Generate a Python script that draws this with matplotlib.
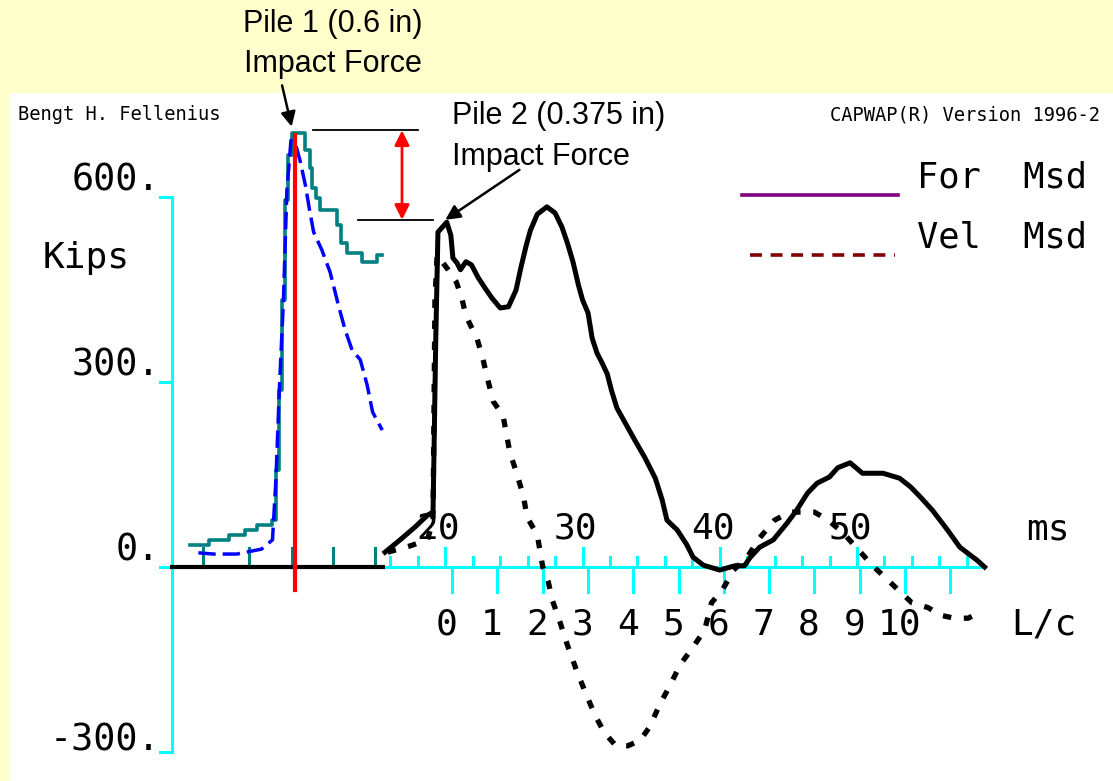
import matplotlib
matplotlib.use('Agg')
import matplotlib.pyplot as plt

# ---- datos (tiempo en ms, fuerza en kips) ----
# Pilote 1: fuerza (verde azulado) y velocidad (azul)
p1_fuerza_t = [1.4, 2.8, 4.2, 5.4, 6.3, 7.4, 7.65, 7.9, 8.1, 8.3, 8.5, 8.8, 9.8, 10.1,
               10.3, 10.6, 10.9, 12.1, 12.4, 12.8, 13.9, 14.7, 15.0, 15.4]
p1_fuerza_v = [36, 44, 52, 60, 68, 76, 157, 287, 433, 595, 668, 704, 676, 647,
               615, 599, 579, 555, 525, 509, 494, 494, 506, 506]
p1_vel_t = [2.0, 3.1, 4.8, 6.6, 7.4, 7.65, 7.9, 8.2, 8.45, 8.75, 9.1, 9.4, 9.8, 10.1,
            10.4, 11.0, 11.6, 12.2, 12.7, 13.2, 13.8, 14.3, 14.7, 15.4]
p1_vel_v = [23, 21, 21, 29, 44, 141, 287, 433, 611, 692, 684, 660, 619, 579,
            543, 514, 478, 425, 384, 352, 336, 295, 251, 222]
p1_ticks_t = [2.3, 5.7, 8.8, 11.8, 14.9]
p1_impacto_t = 9.04

# Pilote 2: fuerza medida y velocidad medida (negro)
p2_fuerza_t = [15.6, 16.7, 17.8, 18.7, 19.1, 19.17, 19.3, 19.46, 20.1, 20.4, 20.55, 20.85,
               21.1, 21.5, 21.9, 22.4, 22.9, 23.4, 24.0, 24.6, 25.15, 25.5, 25.9, 26.2,
               26.7, 27.4, 28.0, 28.5, 28.9, 29.3, 29.7, 30.0, 30.4, 30.7, 31.05, 31.4,
               31.8, 32.1, 32.5, 33.1, 33.8, 34.55, 35.3, 35.8, 36.15, 36.9, 37.6, 38.05,
               38.8, 40.0, 41.1, 41.8, 42.2, 42.9, 43.9, 44.9, 45.6, 46.4, 47.1, 48.0,
               48.6, 49.5, 50.4, 51.9, 53.1, 53.9, 54.6, 55.5, 56.6, 57.5, 58.75, 59.3]
p2_fuerza_v = [24, 44, 65, 84, 89, 182, 368, 543, 559, 538, 501, 493,
               482, 495, 490, 469, 452, 436, 420, 422, 449, 485, 522, 546,
               572, 584, 574, 551, 525, 495, 457, 433, 412, 371, 347, 332,
               313, 287, 258, 234, 206, 177, 144, 109, 76, 60, 36, 16,
               3, -5, 2, 2, 15, 32, 44, 71, 92, 120, 136, 146,
               161, 169, 152, 152, 144, 130, 114, 92, 60, 32, 11, 0]
p2_vel_t = [15.8, 17.4, 18.7, 19.1, 19.24, 19.4, 20.2, 20.8, 21.2, 21.5, 22.3, 22.7,
            23.1, 23.5, 24.2, 24.7, 25.2, 25.7, 25.95, 26.7, 27.1, 27.5, 27.8, 28.35,
            28.9, 29.6, 30.2, 30.9, 31.6, 32.4, 33.3, 34.2, 34.9, 35.6, 36.4, 37.1,
            38.05, 38.9, 39.4, 40.2, 41.0, 42.0, 42.9, 44.0, 45.1, 46.1, 46.9, 47.9,
            49.0, 50.1, 51.1, 52.0, 53.0, 54.0, 55.2, 56.05, 57.1, 58.1, 59.0]
p2_vel_v = [24, 34, 44, 76, 433, 506, 482, 462, 436, 407, 371, 341,
            303, 268, 246, 186, 152, 114, 81, 52, 0, -24, -54, -89,
            -127, -170, -203, -240, -269, -289, -290, -281, -259, -224, -191, -159,
            -130, -102, -58, -37, -5, 16, 47, 76, 89, 89, 89, 76,
            55, 28, 3, -16, -37, -58, -66, -78, -83, -83, -73]

pico_pilote1 = 708
pico_pilote2 = 563

# ejes
y_ticks = [600, 300, 0, -300]
y_labels = ['600.', '300.', '0.', '-300.']
ms_ticks = list(range(16, 59, 2))
ms_labels = [20, 30, 40, 50]
lc_valores = list(range(12))
lc_etiquetas = ['0', '1', '2', '3', '4', '5', '6', '7', '8', '9', '10']
lc_t0 = 20.5
lc_paso = 3.3

amarillo = '#FFFFCC'
cian = '#00FFFF'
mono = 'DejaVu Sans Mono'
arial = 'Liberation Sans'

fig = plt.figure(figsize=(11.13, 7.81), dpi=100)
fig.patch.set_facecolor(amarillo)
ax = fig.add_axes([10 / 1113, 0, 1103 / 1113, 688 / 781])
ax.set_facecolor('white')
ax.set_xlim(-11.73, 68.66)
ax.set_ylim(-347, 768.6)
for s in ax.spines.values():
    s.set_visible(False)
ax.set_xticks([])
ax.set_yticks([])

# eje vertical cian con "corchetes"
ax.plot([0.07, 0.07], [-300, 600], color=cian, lw=2.2)
for yt in [600, 300, -300]:
    ax.plot([-0.8, 0.07], [yt, yt], color=cian, lw=2.2)
for yt, lab in zip(y_ticks, y_labels):
    off = 20 if yt < 0 else 28
    ax.text(-0.8, yt + off, lab, ha='right', va='center', family=mono, fontsize=26.5)
ax.text(-6.2, 501, 'Kips', ha='center', va='center', family=mono, fontsize=26)

# eje horizontal cian
ax.plot([-0.8, 59.3], [0, 0], color=cian, lw=2.2)
for t in ms_ticks:
    h = 31 if t % 10 == 0 else 16
    ax.plot([t, t], [0, h], color=cian, lw=2.2)
for k in lc_valores:
    tk = lc_t0 + lc_paso * k
    ax.plot([tk, tk], [0, -40], color=cian, lw=2.2)
for m in ms_labels:
    ax.text(m - 0.5, 63, str(m), ha='center', va='center', family=mono, fontsize=26)
ax.text(63.9, 60, 'ms', ha='center', va='center', family=mono, fontsize=26)
for k, lab in zip(lc_valores, lc_etiquetas):
    ax.text(lc_t0 + lc_paso * k - 0.4, -94, lab, ha='center', va='center',
            family=mono, fontsize=26)
ax.text(63.6, -94, 'L/c', ha='center', va='center', family=mono, fontsize=26)

# pilote 1
for t in p1_ticks_t:
    ax.plot([t, t], [0, 31], color='#008080', lw=2.2)
ax.plot([-0.07, 15.6], [0, 0], color='black', lw=3.0, solid_capstyle='butt')
ax.plot(p1_fuerza_t, p1_fuerza_v, color='#008080', lw=2.6, drawstyle='steps-post')
ax.plot(p1_vel_t, p1_vel_v, color='#0000FF', lw=2.5, linestyle=(0, (5, 2)))
ax.plot([p1_impacto_t, p1_impacto_t], [-37, 700], color='#FF0000', lw=3.0)

# pilote 2
ax.plot(p2_fuerza_t, p2_fuerza_v, color='black', lw=3.6)
ax.plot(p2_vel_t, p2_vel_v, color='black', lw=3.8, linestyle=(0, (1.6, 2.4)))

# leyenda
ax.plot([41.6, 53.0], [603, 603], color='#800080', lw=2.6)
ax.plot([42.2, 52.8], [506, 506], color='#800000', lw=2.6, linestyle=(0, (3.3, 2.4)))
ax.text(54.4, 631, 'For  Msd', ha='left', va='center', family=mono, fontsize=25.5)
ax.text(54.4, 535, 'Vel  Msd', ha='left', va='center', family=mono, fontsize=25.5)

# textos de cabecera
ax.text(-11.15, 733, 'Bengt H. Fellenius', ha='left', va='center', family=mono, fontsize=13.5)
ax.text(48.0, 733, 'CAPWAP(R) Version 1996-2', ha='left', va='center', family=mono,
        fontsize=13.5)

# anotaciones de fuerza de impacto
ax.plot([10.35, 18.0], [pico_pilote1, pico_pilote1], color='black', lw=1.3)
ax.plot([13.6, 19.1], [pico_pilote2, pico_pilote2], color='black', lw=1.3)
ax.annotate('', xy=(16.84, pico_pilote2), xytext=(16.84, pico_pilote1),
            arrowprops=dict(arrowstyle='<|-|>', color='#FF0000', lw=2,
                            mutation_scale=22, shrinkA=0, shrinkB=0))
ax.annotate('', xy=(8.8, 714), xytext=(8.1, 781), annotation_clip=False,
            arrowprops=dict(arrowstyle='-|>', color='black', lw=1.8,
                            mutation_scale=22, shrinkA=0, shrinkB=0))
ax.annotate('', xy=(20.0, 563), xytext=(25.4, 644),
            arrowprops=dict(arrowstyle='-|>', color='black', lw=1.8,
                            mutation_scale=22, shrinkA=0, shrinkB=0))
fig.text(333 / 1113, 1 - 44 / 781, 'Pile 1 (0.6 in)\nImpact Force', ha='center',
         va='center', family=arial, fontsize=22, linespacing=1.45)
ax.text(20.5, 698, 'Pile 2 (0.375 in)\nImpact Force', ha='left',
        va='center', family=arial, fontsize=22, linespacing=1.45)

fig.savefig('out.png', dpi=100, facecolor=amarillo)
